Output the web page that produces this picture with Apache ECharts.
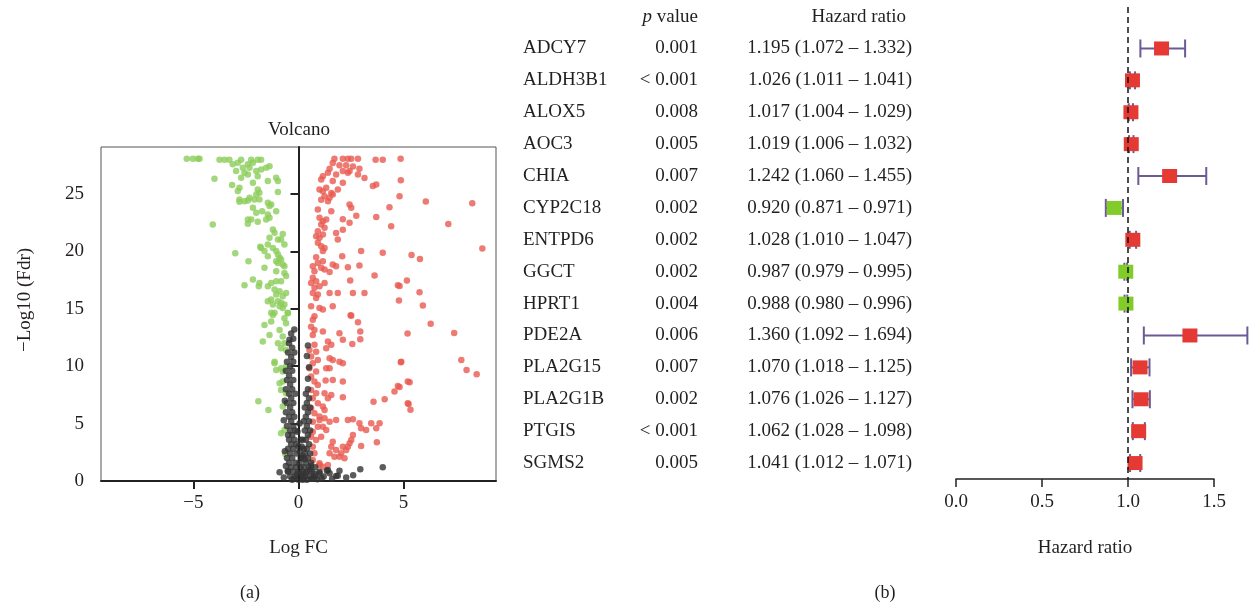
<!DOCTYPE html>
<html lang="en">
<head>
    <meta charset="UTF-8">
    <title>Volcano and forest plot</title>
    <script src="https://cdn.jsdelivr.net/npm/echarts@6/dist/echarts.min.js"></script>
    <style>
        body { margin: 0; background: #fff; }
    </style>
</head>
<body>
<div id="myDiv" style="width: 1250px;height: 608px"></div>

<script>
    // volcano: [log FC, -log10 Fdr]
    var downPoints = [
        [-5.32,28.07],[-5.03,28.07],[-4.79,28.07],[-4.71,28.07],
        [-3.76,28.0],[-3.52,28.0],[-3.29,28.0],[-2.73,28.0],[-2.25,28.0],[-1.94,28.0],[-1.78,28.0],
        [-3.13,27.6],[-2.89,27.72],[-2.41,27.6],[-2.17,27.72],[-2.33,27.29],[-2.65,27.29],[-2.97,27.0],
        [-2.57,26.85],[-2.41,26.7],[-2.01,27.0],[-1.78,27.14],[-1.54,27.29],[-1.38,27.43],
        [-2.73,26.42],[-1.94,26.56],[-1.46,26.13],[-1.06,26.42],[-0.98,26.13],
        [-4.0,26.33],[-3.16,25.78],[-2.81,25.55],[-2.89,25.26],[-2.17,25.98],[-1.94,25.4],[-1.86,25.11],
        [-2.01,24.96],[-0.98,25.18],
        [-2.81,24.53],[-2.57,24.38],[-2.33,24.67],[-2.1,24.53],[-1.86,24.53],[-2.41,24.44],[-2.81,24.32],
        [-1.46,24.24],[-1.38,23.95],[-1.3,24.1],
        [-2.17,23.8],[-2.01,23.37],[-1.73,23.51],[-1.46,23.22],[-1.06,23.51],[-1.38,22.93],
        [-2.41,22.79],[-2.25,22.79],[-1.94,22.58],[-2.41,22.41],[-1.54,22.79],[-4.08,22.35],
        [-1.22,21.91],[-1.14,21.62],[-0.75,21.53],[-1.38,21.19],[-0.98,21.04],[-1.46,20.6],[-1.78,20.31],
        [-1.22,20.31],[-0.83,21.04],[-0.67,20.6],
        [-1.06,20.03],[-0.98,19.73],[-0.9,19.44],[-1.06,19.15],[-0.83,19.3],[-0.75,18.86],[-0.67,18.72],
        [-0.98,19.0],[-1.06,18.28],[-0.67,18.13],[-0.59,17.85],
        [-1.82,20.4],[-1.62,20.03],[-1.46,19.59],[-1.62,18.57],[-2.17,17.55],[-1.86,17.26],[-1.89,16.97],
        [-2.57,17.06],[-2.38,19.15],[-3.01,19.85],
        [-1.46,16.97],[-1.3,17.26],[-1.06,17.41],[-0.83,17.41],[-1.14,16.68],[-0.9,16.54],[-1.06,16.24],
        [-0.75,16.1],[-0.59,16.39],[-1.3,15.81],[-0.98,15.66],[-0.83,15.52],[-0.67,15.37],[-1.46,15.66],
        [-1.22,15.37],[-0.9,15.23],[-0.75,15.08],[-1.14,14.65],[-0.51,14.65],[-1.3,14.65],
        [-1.22,14.47],[-0.67,14.18],[-0.51,14.62],[-1.3,13.89],[-0.59,13.75],[-1.62,13.6],[-0.9,13.16],
        [-1.38,12.73],[-0.75,12.58],[-1.7,12.15],[-0.98,12.0],[-0.67,12.0],[-0.83,11.57],[-0.59,11.42],
        [-1.14,10.4],[-1.14,10.26],[-1.06,9.68],[-0.83,9.83],[-0.59,9.97],[-0.75,9.53],
        [-0.9,8.52],[-0.75,8.66],[-0.83,7.93],[-0.59,7.65],[-1.91,6.95],[-1.43,6.19],[-0.75,6.48],
        [-0.83,4.16],[-0.67,4.45],[-0.63,2.35]
    ];
    var upPoints = [
        [1.71,28.07],[2.11,28.07],[2.35,28.07],[2.51,28.07],[2.83,28.07],[3.67,28.0],[4.01,28.0],[4.86,28.07],
        [1.63,27.7],[1.95,27.5],[2.27,27.5],[2.59,27.4],[1.48,27.2],[2.11,27.0],[2.43,27.0],[2.9,27.2],
        [1.4,26.85],[1.16,26.55],[1.79,26.7],[2.35,26.85],[2.83,26.7],[3.14,26.4],[1.08,26.27],[1.63,26.13],
        [2.11,25.98],[3.54,25.7],[3.7,25.83],[4.87,26.2],
        [1.0,25.4],[1.16,25.25],[1.32,25.55],[1.56,25.1],[1.24,24.8],[1.48,24.67],[1.63,24.96],[1.87,25.4],
        [1.08,24.5],[1.4,24.38],[4.81,24.8],[4.33,23.86],[2.43,24.1],[2.51,23.8],
        [0.92,23.65],[1.56,23.5],[2.11,22.8],[2.75,23.1],[3.7,23.0],
        [1.0,22.93],[1.16,22.64],[1.08,22.35],[1.32,22.78],[1.24,22.06],[2.43,22.5],[2.11,21.9],[1.79,21.6],[4.41,22.2],
        [0.92,21.77],[0.84,21.33],[1.0,21.19],[1.16,21.48],[0.92,20.75],[1.08,20.46],[1.24,20.31],[1.16,20.03],
        [1.87,21.04],[2.98,20.03],[4.01,19.88],[2.08,19.59],[0.84,19.5],
        [0.68,18.72],[0.92,19.0],[1.16,19.15],[1.08,18.57],[0.76,18.28],[1.24,18.42],[1.63,18.86],[1.79,18.72],
        [2.35,18.63],[2.9,18.77],[1.48,18.22],[3.62,17.9],
        [0.68,17.7],[0.84,17.41],[0.6,17.26],[0.76,16.83],[1.0,16.97],[0.68,16.39],[0.92,16.24],[0.84,15.95],
        [0.6,15.23],[1.0,15.08],[1.16,14.94],[0.76,14.36],
        [1.24,17.26],[2.46,17.47],[1.48,16.39],[1.87,16.39],[2.59,16.39],[3.14,16.39],[4.73,17.06],[4.78,15.72],
        [1.63,15.23],[2.48,14.45],
        [6.06,24.35],[8.27,24.2],[7.13,22.4],[8.75,20.25],[5.38,19.7],[5.78,19.35],[5.16,17.46],[5.76,16.45],
        [4.81,17.0],[5.92,15.3],[6.29,13.7],[7.41,12.9],[5.19,12.85],[4.87,10.35],[7.75,10.55],[8.0,9.68],
        [8.48,9.3],[4.81,8.2],[5.29,8.6],[5.24,6.7],[5.33,6.2],
        [2.51,14.39],[2.83,13.83],[0.68,14.04],[0.6,13.45],[0.76,13.16],[0.68,12.73],[1.16,13.02],[1.95,12.88],
        [2.94,13.02],[2.11,12.3],[2.56,11.94],[2.94,12.35],[1.4,12.15],[1.56,11.86],
        [0.76,11.86],[0.52,11.42],[0.84,11.27],[0.6,10.84],[0.92,10.55],[0.68,10.26],[0.52,9.83],[0.84,9.53],
        [0.6,9.1],[0.76,8.66],[0.92,8.37],[0.6,7.93],[0.84,7.65],[0.68,7.21],[0.92,6.77],[0.6,6.34],[0.76,5.9],
        [1.0,5.61],[0.68,5.17],[0.92,4.73],[0.68,4.3],[0.6,3.86],[0.84,3.57],[0.68,2.99],[0.76,2.41],[0.68,1.83],[1.0,1.4],
        [1.32,11.57],[1.48,10.7],[1.63,10.55],[1.95,10.4],[2.11,10.26],[1.32,9.83],[1.48,9.83],[1.29,8.75],
        [1.63,8.8],[2.11,8.66],[1.24,7.65],[1.56,7.5],[1.4,7.21],[2.11,7.3],[1.16,6.48],[1.24,6.19],
        [1.0,5.32],[1.24,5.47],[1.48,5.17],[1.79,5.32],[2.35,5.32],[2.59,5.38],[2.9,5.03],[2.98,4.59],[3.22,4.45],
        [3.46,5.03],[3.7,4.59],[3.86,5.03],[2.59,4.01],[2.51,3.57],[2.43,3.29],[2.35,2.99],[2.98,3.05],[3.73,3.37],
        [1.16,4.73],[1.32,4.45],[1.08,3.86],[1.63,3.43],[1.56,2.99],[1.79,2.7],[1.48,2.41],[1.71,2.12],[2.11,2.99],
        [2.27,2.7],[2.03,2.41],[2.19,1.98],[1.95,2.12],[1.0,1.54],[1.16,1.25],[1.4,1.4],
        [4.89,10.4],[5.2,8.66],[4.73,8.28],[4.57,7.79],[4.1,7.12],[3.57,6.91],[5.2,6.77]
    ];
    var nsPoints = [
        [-0.2,13.2],[-0.35,12.85],[-0.43,12.3],[-0.25,12.4],[-0.45,12.0],[-0.3,11.6],[-0.5,11.2],[-0.2,11.2],
        [-0.35,10.8],[-0.55,10.4],[-0.25,10.4],[-0.4,10.0],[-0.3,9.6],[-0.6,9.6],[-0.45,9.2],[-0.25,8.8],
        [-0.55,8.8],[-0.4,8.4],[-0.3,8.0],[-0.6,8.0],[-0.45,7.6],[-0.15,7.6],[-0.35,7.2],[-0.55,6.8],[-0.25,6.8],
        [-0.4,6.4],[-0.3,6.0],[-0.6,6.0],[-0.45,5.6],[-0.2,5.6],[-0.35,5.2],[-0.55,4.8],[-0.25,4.8],[-0.4,4.4],
        [-0.15,4.4],[-0.3,4.0],[-0.5,4.0],[-0.45,3.6],[-0.2,3.6],[-0.35,3.2],[-0.1,3.2],[-0.5,2.8],[-0.25,2.8],
        [-0.4,2.4],[-0.1,2.4],[-0.3,2.0],[-0.55,2.0],[-0.45,1.6],[-0.15,1.6],[0.05,1.6],[-0.35,1.2],[-0.1,1.2],
        [0.1,1.2],[-0.5,0.8],[-0.25,0.8],[0.0,0.8],[0.2,0.8],[-0.4,0.4],[-0.15,0.4],[0.1,0.4],[0.3,0.4],
        [-0.3,0.1],[0.0,0.1],[0.2,0.1],[0.4,0.1],
        [0.45,11.8],[0.4,10.9],[0.5,9.9],[0.45,8.9],[0.45,8.0],[0.35,7.6],[0.5,7.2],[0.4,6.8],[0.3,6.4],
        [0.55,6.4],[0.45,6.0],[0.35,5.6],[0.5,5.2],[0.25,5.2],[0.4,4.8],[0.3,4.4],[0.55,4.4],[0.45,4.0],
        [0.35,3.6],[0.2,3.6],[0.5,3.2],[0.4,2.8],[0.25,2.8],[0.3,2.4],[0.55,2.4],[0.45,2.0],[0.15,2.0],
        [0.35,1.6],[0.6,1.6],[0.5,1.2],[0.25,1.2],[0.8,1.2],[0.4,0.8],[0.65,0.8],[1.0,0.8],[0.55,0.4],
        [0.8,0.4],[1.2,0.4],
        [-0.9,0.76],[-0.51,0.9],[1.95,0.9],[2.94,1.02],[4.01,1.19],[2.27,0.3],[1.48,0.67],[1.35,0.9],
        [1.79,0.43],[1.0,0.67],[1.4,0.96],[1.87,0.46],[0.6,0.2],[0.9,0.15],[1.1,0.25],[1.6,0.2],[2.6,0.5],
        [-0.7,0.3],[-0.6,1.3],[-0.65,2.6],[-0.7,5.3],[-0.65,7.0],
        [0.15,3.0],[0.2,2.2],[0.05,2.6],[0.7,0.2],[0.3,1.9],[-0.05,0.6],[0.15,0.6],[0.35,0.7],[0.55,1.0],
        [0.75,0.6],[0.25,0.25],[-0.2,0.2],[0.6,1.3],[0.1,2.0],[0.0,3.0],[0.1,3.6],[-0.05,4.3],[0.05,5.0]
    ];
    var volcanoXTicks = [-5, 0, 5];
    var volcanoYTicks = [0, 5, 10, 15, 20, 25];

    // forest plot
    var genes = ['ADCY7','ALDH3B1','ALOX5','AOC3','CHIA','CYP2C18','ENTPD6','GGCT','HPRT1','PDE2A','PLA2G15','PLA2G1B','PTGIS','SGMS2'];
    var pValues = ['0.001','< 0.001','0.008','0.005','0.007','0.002','0.002','0.002','0.004','0.006','0.007','0.002','< 0.001','0.005'];
    var hr = [1.195,1.026,1.017,1.019,1.242,0.920,1.028,0.987,0.988,1.360,1.070,1.076,1.062,1.041];
    var hrLow = [1.072,1.011,1.004,1.006,1.060,0.871,1.010,0.979,0.980,1.092,1.018,1.026,1.028,1.012];
    var hrHigh = [1.332,1.041,1.029,1.032,1.455,0.971,1.047,0.995,0.996,1.694,1.125,1.127,1.098,1.071];
    var hrTicks = [0, 0.5, 1.0, 1.5];

    var FONT = '"Liberation Serif", "Times New Roman", serif';
    var TXT = '#231f20';
    var rowMin = -1.3, rowMax = 13.5;

    var forestData = hr.map(function (v, i) { return [i, v, hrLow[i], hrHigh[i]]; });
    var tableRows = [-1].concat(genes.map(function (g, i) { return i; }));

    function renderForest(params, api) {
        var row = api.value(0);
        var mid = api.coord([api.value(1), row]);
        var lo = api.coord([api.value(2), row]);
        var hi = api.coord([api.value(3), row]);
        var barStyle = { stroke: '#6b5a93', lineWidth: 2 };
        var fill = api.value(1) >= 1 ? '#e53a33' : '#82cc2a';
        return {
            type: 'group',
            children: [
                { type: 'line', shape: { x1: lo[0], y1: lo[1], x2: hi[0], y2: hi[1] }, style: barStyle },
                { type: 'line', shape: { x1: lo[0], y1: lo[1] - 9, x2: lo[0], y2: lo[1] + 9 }, style: barStyle },
                { type: 'line', shape: { x1: hi[0], y1: hi[1] - 9, x2: hi[0], y2: hi[1] + 9 }, style: barStyle },
                { type: 'rect', shape: { x: mid[0] - 7.5, y: mid[1] - 7, width: 15, height: 14 }, style: { fill: fill } }
            ]
        };
    }

    function textEl(x, y, text, align) {
        return {
            type: 'text', x: x, y: y,
            style: {
                text: text, align: align, verticalAlign: 'middle',
                fontSize: 19, fontFamily: FONT, fill: TXT,
                rich: { it: { fontStyle: 'italic', fontSize: 19, fontFamily: FONT, fill: TXT } }
            }
        };
    }

    function renderTable(params, api) {
        var row = api.value(0);
        var geneX = api.coord([23, row]);
        var pX = api.coord([198, row]);
        var hrX = api.coord([412, row]);
        if (row < 0) {
            var hrHead = api.coord([406, row]);
            return {
                type: 'group',
                children: [
                    textEl(pX[0], pX[1], '{it|p} value', 'right'),
                    textEl(hrHead[0], hrHead[1], 'Hazard ratio', 'right')
                ]
            };
        }
        var label = hr[row].toFixed(3) + ' (' + hrLow[row].toFixed(3) + ' – ' + hrHigh[row].toFixed(3) + ')';
        return {
            type: 'group',
            children: [
                textEl(geneX[0], geneX[1], genes[row], 'left'),
                textEl(pX[0], pX[1], pValues[row], 'right'),
                textEl(hrX[0], hrX[1], label, 'right')
            ]
        };
    }

    var labelStyle = { fontSize: 19, fontFamily: FONT, color: TXT };

    var mainChart = echarts.init(document.getElementById('myDiv'));
    var option = {
        backgroundColor: '#ffffff',
        animation: false,
        graphic: [
            { type: 'text', x: 299, y: 130, style: { text: 'Volcano', align: 'center', verticalAlign: 'middle', fontSize: 19, fontFamily: FONT, fill: TXT } },
            { type: 'text', x: 250, y: 593, style: { text: '(a)', align: 'center', verticalAlign: 'middle', fontSize: 18, fontFamily: FONT, fill: TXT } },
            { type: 'text', x: 885, y: 593, style: { text: '(b)', align: 'center', verticalAlign: 'middle', fontSize: 18, fontFamily: FONT, fill: TXT } }
        ],
        grid: [
            { left: 101, top: 147, width: 395, height: 334, show: true, borderColor: '#555', borderWidth: 1 },
            { left: 956, top: 7, width: 258, height: 472 },
            { left: 500, top: 7, width: 420, height: 472 }
        ],
        xAxis: [
            {
                gridIndex: 0, type: 'value', min: -9.4, max: 9.4,
                name: 'Log FC', nameLocation: 'middle', nameGap: 58, nameTextStyle: labelStyle,
                axisLine: { show: true, onZero: false, lineStyle: { color: '#222', width: 2 } },
                axisTick: { show: true, customValues: volcanoXTicks, length: 8, lineStyle: { color: '#222', width: 2 } },
                axisLabel: {
                    customValues: volcanoXTicks, margin: 13, fontSize: 19, fontFamily: FONT, color: TXT,
                    formatter: function (v) { return String(v).replace('-', '−'); }
                },
                splitLine: { show: false }
            },
            {
                gridIndex: 1, type: 'value', min: 0, max: 1.5,
                name: 'Hazard ratio', nameLocation: 'middle', nameGap: 60, nameTextStyle: labelStyle,
                axisLine: { show: true, onZero: false, lineStyle: { color: '#222', width: 1.5 } },
                axisTick: { show: true, customValues: hrTicks, length: 8, lineStyle: { color: '#222', width: 1.5 } },
                axisLabel: {
                    customValues: hrTicks, margin: 14, fontSize: 19, fontFamily: FONT, color: TXT,
                    formatter: function (v) { return v.toFixed(1); }
                },
                splitLine: { show: false }
            },
            { gridIndex: 2, type: 'value', min: 0, max: 420, show: false }
        ],
        yAxis: [
            {
                gridIndex: 0, type: 'value', min: 0, max: 29.1,
                name: '−Log10 (Fdr)', nameLocation: 'middle', nameGap: 66,
                nameTextStyle: { fontSize: 19, fontFamily: FONT, color: TXT, padding: [0, 0, 0, 28] },
                axisLine: { show: true, lineStyle: { color: '#222', width: 2 } },
                axisTick: { show: true, customValues: volcanoYTicks, length: 8, lineStyle: { color: '#222', width: 2 } },
                axisLabel: { customValues: volcanoYTicks, margin: 17, fontSize: 19, fontFamily: FONT, color: TXT },
                splitLine: { show: false }
            },
            { gridIndex: 1, type: 'value', min: rowMin, max: rowMax, inverse: true, show: false },
            { gridIndex: 2, type: 'value', min: rowMin, max: rowMax, inverse: true, show: false }
        ],
        series: [
            {
                type: 'line', xAxisIndex: 0, yAxisIndex: 0, data: [], z: 1, silent: true,
                markLine: {
                    silent: true, symbol: 'none', label: { show: false },
                    lineStyle: { type: [6, 4], color: '#222', width: 1.5 },
                    data: [{ xAxis: 0 }]
                }
            },
            {
                type: 'scatter', xAxisIndex: 0, yAxisIndex: 0, data: downPoints,
                symbolSize: 6.5, itemStyle: { color: '#8ccd5a' }, z: 2
            },
            {
                type: 'scatter', xAxisIndex: 0, yAxisIndex: 0, data: upPoints,
                symbolSize: 6.5, itemStyle: { color: '#e85a50' }, z: 2
            },
            {
                type: 'scatter', xAxisIndex: 0, yAxisIndex: 0, data: nsPoints,
                symbolSize: 6.5, itemStyle: { color: '#333333' }, z: 2
            },
            {
                type: 'line', xAxisIndex: 1, yAxisIndex: 1, data: [], z: 1, silent: true,
                markLine: {
                    silent: true, symbol: 'none', label: { show: false },
                    lineStyle: { type: [6, 4], color: '#111', width: 1.5 },
                    data: [{ xAxis: 1 }]
                }
            },
            {
                type: 'custom', xAxisIndex: 1, yAxisIndex: 1, data: forestData,
                encode: { x: [1, 2, 3], y: 0 }, clip: false, z: 3,
                renderItem: renderForest
            },
            {
                type: 'custom', xAxisIndex: 2, yAxisIndex: 2, data: tableRows.map(function (r) { return [r]; }),
                encode: { y: 0 }, clip: false, silent: true,
                renderItem: renderTable
            }
        ]
    };
    mainChart.setOption(option);
</script>
</body>
</html>
